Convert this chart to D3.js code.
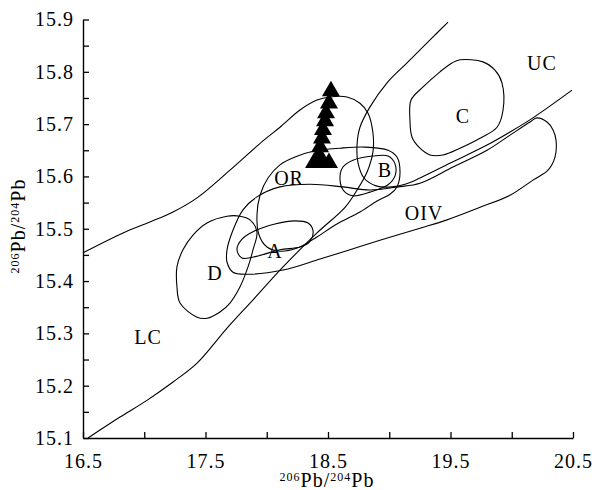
<!DOCTYPE html>
<html>
<head>
<meta charset="utf-8">
<script src="https://cdnjs.cloudflare.com/ajax/libs/d3/7.8.5/d3.min.js"></script>
<style>
  body { margin: 0; background: #fff; }
  svg text { font-family: "Liberation Serif", "Times New Roman", serif; fill: #000; letter-spacing: 1px; }
</style>
</head>
<body>
<script>
// tick values / labels
var xTicks = [16.5, 17, 17.5, 18, 18.5, 19, 19.5, 20, 20.5];
var xTickLabels = ["16.5", "", "17.5", "", "18.5", "", "19.5", "", "20.5"];
var yTicks = [15.1, 15.15, 15.2, 15.25, 15.3, 15.35, 15.4, 15.45, 15.5, 15.55, 15.6, 15.65, 15.7, 15.75, 15.8, 15.85, 15.9];
var yTickLabels = ["15.1", "", "15.2", "", "15.3", "", "15.4", "", "15.5", "", "15.6", "", "15.7", "", "15.8", "", "15.9"];

// samples (triangles)
var samples = [
  [18.524, 15.763], [18.508, 15.740], [18.484, 15.721], [18.476, 15.706],
  [18.459, 15.689], [18.451, 15.673], [18.435, 15.656], [18.427, 15.641],
  [18.386, 15.626], [18.451, 15.626], [18.508, 15.626], [18.418, 15.631]
];

// open boundary lines
var orBound = [
  [16.500, 15.454], [16.827, 15.492], [17.047, 15.513], [17.235, 15.532], [17.431, 15.559],
  [17.700, 15.612], [17.969, 15.668], [18.108, 15.694], [18.271, 15.727], [18.410, 15.746],
  [18.516, 15.752], [18.655, 15.752], [18.761, 15.740], [18.827, 15.721], [18.867, 15.683],
  [18.867, 15.647], [18.818, 15.608], [18.737, 15.574], [18.639, 15.541], [18.410, 15.492],
  [18.133, 15.427], [17.888, 15.364], [17.676, 15.310], [17.431, 15.243], [17.235, 15.207],
  [17.022, 15.172], [16.802, 15.140], [16.541, 15.100]
];
var ucBound = [
  [19.480, 15.895], [19.333, 15.861], [19.145, 15.817], [18.982, 15.779], [18.843, 15.733],
  [18.761, 15.694], [18.737, 15.660], [18.745, 15.626], [18.794, 15.597], [18.892, 15.582],
  [19.022, 15.580], [19.129, 15.585], [19.251, 15.597], [19.520, 15.628], [19.798, 15.660],
  [19.986, 15.685], [20.173, 15.712], [20.492, 15.765]
];

// closed fields
var cField = [
  [19.512, 15.817], [19.578, 15.823], [19.765, 15.819], [19.863, 15.803], [19.920, 15.779],
  [19.929, 15.727], [19.880, 15.694], [19.741, 15.673], [19.578, 15.654], [19.439, 15.641],
  [19.333, 15.641], [19.251, 15.654], [19.186, 15.675], [19.169, 15.708], [19.178, 15.746],
  [19.276, 15.771], [19.414, 15.800]
];
var dField = [
  [17.676, 15.524], [17.782, 15.524], [17.863, 15.517], [17.920, 15.494], [17.888, 15.460],
  [17.847, 15.427], [17.782, 15.389], [17.700, 15.358], [17.618, 15.341], [17.512, 15.329],
  [17.431, 15.331], [17.292, 15.358], [17.267, 15.389], [17.267, 15.427], [17.316, 15.460],
  [17.398, 15.488], [17.512, 15.511]
];
var oivField = [
  [17.676, 15.460], [17.724, 15.497], [17.806, 15.536], [17.920, 15.561], [18.108, 15.580],
  [18.353, 15.585], [18.622, 15.580], [18.843, 15.574], [19.071, 15.580], [19.251, 15.587],
  [19.520, 15.618], [19.798, 15.650], [19.986, 15.679], [20.149, 15.704], [20.206, 15.712],
  [20.288, 15.704], [20.337, 15.689], [20.361, 15.670], [20.353, 15.637], [20.296, 15.612],
  [20.173, 15.593], [19.986, 15.564], [19.741, 15.541], [19.471, 15.517], [19.251, 15.501],
  [18.924, 15.478], [18.680, 15.460], [18.435, 15.442], [18.133, 15.421], [17.839, 15.413],
  [17.724, 15.417], [17.676, 15.436]
];
var midField = [
  [17.920, 15.526], [17.945, 15.564], [18.010, 15.597], [18.108, 15.622], [18.231, 15.637],
  [18.394, 15.649], [18.598, 15.654], [18.802, 15.656], [18.990, 15.650], [19.063, 15.637],
  [19.088, 15.608], [19.063, 15.580], [19.006, 15.566], [18.900, 15.553], [18.761, 15.532],
  [18.573, 15.509], [18.394, 15.482], [18.247, 15.463], [18.108, 15.457], [18.002, 15.465],
  [17.937, 15.488]
];
var bField = [
  [18.598, 15.593], [18.622, 15.618], [18.704, 15.631], [18.867, 15.639], [18.990, 15.639],
  [19.047, 15.624], [19.047, 15.601], [18.990, 15.584], [18.843, 15.570], [18.704, 15.563],
  [18.631, 15.572]
];
var aField = [
  [17.757, 15.460], [17.798, 15.480], [17.904, 15.496], [18.067, 15.509], [18.231, 15.515],
  [18.337, 15.511], [18.378, 15.496], [18.353, 15.476], [18.271, 15.465], [18.108, 15.460],
  [17.929, 15.448], [17.798, 15.444]
];

var fieldLabels = [
  {t: "UC", x: 20.247, y: 15.817},
  {t: "C", x: 19.602, y: 15.715},
  {t: "B", x: 18.965, y: 15.612},
  {t: "OR", x: 18.182, y: 15.597},
  {t: "OIV", x: 19.284, y: 15.530},
  {t: "A", x: 18.067, y: 15.457},
  {t: "D", x: 17.578, y: 15.415},
  {t: "LC", x: 17.031, y: 15.293}
];

var w = 595;
var h = 490;
var mLeft = 83, mRight = 573, mTop = 19.5, mBottom = 438;

var svg = d3.select("body")
  .append("svg")
  .attr("width", w)
  .attr("height", h);

var x = d3.scaleLinear().domain([16.5, 20.5]).range([mLeft, mRight]);
var y = d3.scaleLinear().domain([15.1, 15.9]).range([mBottom, mTop]);

// axes, ticks point inward
var xAxis = d3.axisBottom(x)
  .tickValues(xTicks)
  .tickFormat(function(d, i) { return xTickLabels[i]; })
  .tickSizeInner(-6)
  .tickSizeOuter(0)
  .tickPadding(16);
var yAxis = d3.axisLeft(y)
  .tickValues(yTicks)
  .tickFormat(function(d, i) { return yTickLabels[i]; })
  .tickSizeInner(-6)
  .tickSizeOuter(0)
  .tickPadding(9);

var gx = svg.append("g").attr("transform", "translate(0," + mBottom + ")").call(xAxis);
var gy = svg.append("g").attr("transform", "translate(" + mLeft + ",0)").call(yAxis);
[gx, gy].forEach(function(g) {
  g.selectAll("text").style("font-size", "20px").style("font-family", "'Liberation Serif', serif").attr("fill", "#000");
  g.selectAll("line").attr("stroke", "#000").attr("stroke-width", 1.3);
  g.select(".domain").attr("stroke", "#000").attr("stroke-width", 1.4);
});

// curves
var openLine = d3.line()
  .x(function(d) { return x(d[0]); })
  .y(function(d) { return y(d[1]); })
  .curve(d3.curveCatmullRom.alpha(0.5));
var closedLine = d3.line()
  .x(function(d) { return x(d[0]); })
  .y(function(d) { return y(d[1]); })
  .curve(d3.curveCatmullRomClosed.alpha(0.5));

var plot = svg.append("g");
[orBound, ucBound].forEach(function(p) {
  plot.append("path").attr("d", openLine(p))
    .attr("fill", "none").attr("stroke", "#000").attr("stroke-width", 1.1);
});
[cField, dField, oivField, midField, bField, aField].forEach(function(p) {
  plot.append("path").attr("d", closedLine(p))
    .attr("fill", "none").attr("stroke", "#000").attr("stroke-width", 1.1);
});

// field labels
plot.selectAll("text.lab")
  .data(fieldLabels)
  .enter()
  .append("text")
  .attr("class", "lab")
  .attr("x", function(d) { return x(d.x); })
  .attr("y", function(d) { return y(d.y); })
  .attr("dy", "0.35em")
  .attr("text-anchor", "middle")
  .style("font-size", "20px")
  .text(function(d) { return d.t; });

// sample triangles
var tri = d3.symbol().type(d3.symbolTriangle).size(140);
plot.selectAll("path.tri")
  .data(samples)
  .enter()
  .append("path")
  .attr("class", "tri")
  .attr("d", tri)
  .attr("transform", function(d) { return "translate(" + x(d[0]) + "," + y(d[1]) + ")"; })
  .attr("fill", "#000");

// axis titles
function isoTitle(sel) {
  sel.append("tspan").attr("font-size", "12px").attr("dy", "-6").text("206");
  sel.append("tspan").attr("font-size", "20px").attr("dy", "6").text("Pb/");
  sel.append("tspan").attr("font-size", "12px").attr("dy", "-6").text("204");
  sel.append("tspan").attr("font-size", "20px").attr("dy", "6").text("Pb");
}
svg.append("text")
  .attr("x", 327).attr("y", 487)
  .attr("text-anchor", "middle")
  .style("font-size", "20px")
  .call(isoTitle);
svg.append("text")
  .attr("transform", "translate(25,226) rotate(-90)")
  .attr("text-anchor", "middle")
  .style("font-size", "20px")
  .call(isoTitle);
</script>
</body>
</html>
